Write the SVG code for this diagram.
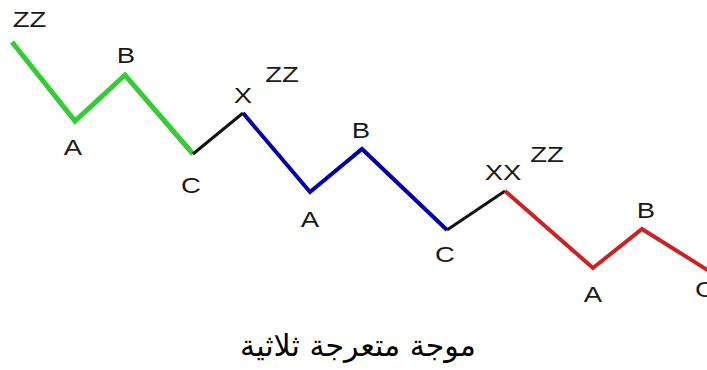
<svg xmlns="http://www.w3.org/2000/svg" width="707" height="370" viewBox="0 0 707 370">
<style>
.lbl{font-family:"Liberation Sans",Arial,sans-serif;font-size:22px;fill:#1a1a1a;text-anchor:middle}
.seg{fill:none;stroke-linejoin:miter;stroke-linecap:butt}
.g{stroke:#33cc33;stroke-width:5}
.b{stroke:#0000aa;stroke-width:4}
.r{stroke:#cc2222;stroke-width:4}
.k{stroke:#111;stroke-width:3}
.title{font-family:"DejaVu Sans",sans-serif;font-size:30px;fill:#000;text-anchor:middle}
</style>
<rect width="707" height="370" fill="#fff"/>
<g id="connectors">
<polyline class="seg g" points="12,42 75,121 125,75 193,154"/>
<polyline class="seg k" points="193,154 243,113"/>
<polyline class="seg b" points="243,113 310,192 362,149 447,230"/>
<polyline class="seg k" points="447,230 505,191"/>
<polyline class="seg r" points="505,191 593,268 642,229 709,271"/>
</g>
<g id="labels">
<text class="lbl" transform="translate(29.5,27) scale(1.25,1)">ZZ</text>
<text class="lbl" transform="translate(73,155) scale(1.25,1)">A</text>
<text class="lbl" transform="translate(126,63) scale(1.25,1)">B</text>
<text class="lbl" transform="translate(191,193) scale(1.25,1)">C</text>
<text class="lbl" transform="translate(243,103) scale(1.25,1)">X</text>
<text class="lbl" transform="translate(282,82) scale(1.25,1)">ZZ</text>
<text class="lbl" transform="translate(310,227) scale(1.25,1)">A</text>
<text class="lbl" transform="translate(361,138) scale(1.25,1)">B</text>
<text class="lbl" transform="translate(445,262) scale(1.25,1)">C</text>
<text class="lbl" transform="translate(503,180) scale(1.25,1)">XX</text>
<text class="lbl" transform="translate(547,162) scale(1.25,1)">ZZ</text>
<text class="lbl" transform="translate(593,302) scale(1.25,1)">A</text>
<text class="lbl" transform="translate(646,218) scale(1.25,1)">B</text>
<text class="lbl" transform="translate(705,297) scale(1.25,1)">C</text>
</g>
<text id="caption" class="title" x="358" y="356" direction="rtl">موجة متعرجة ثلاثية</text>
</svg>
